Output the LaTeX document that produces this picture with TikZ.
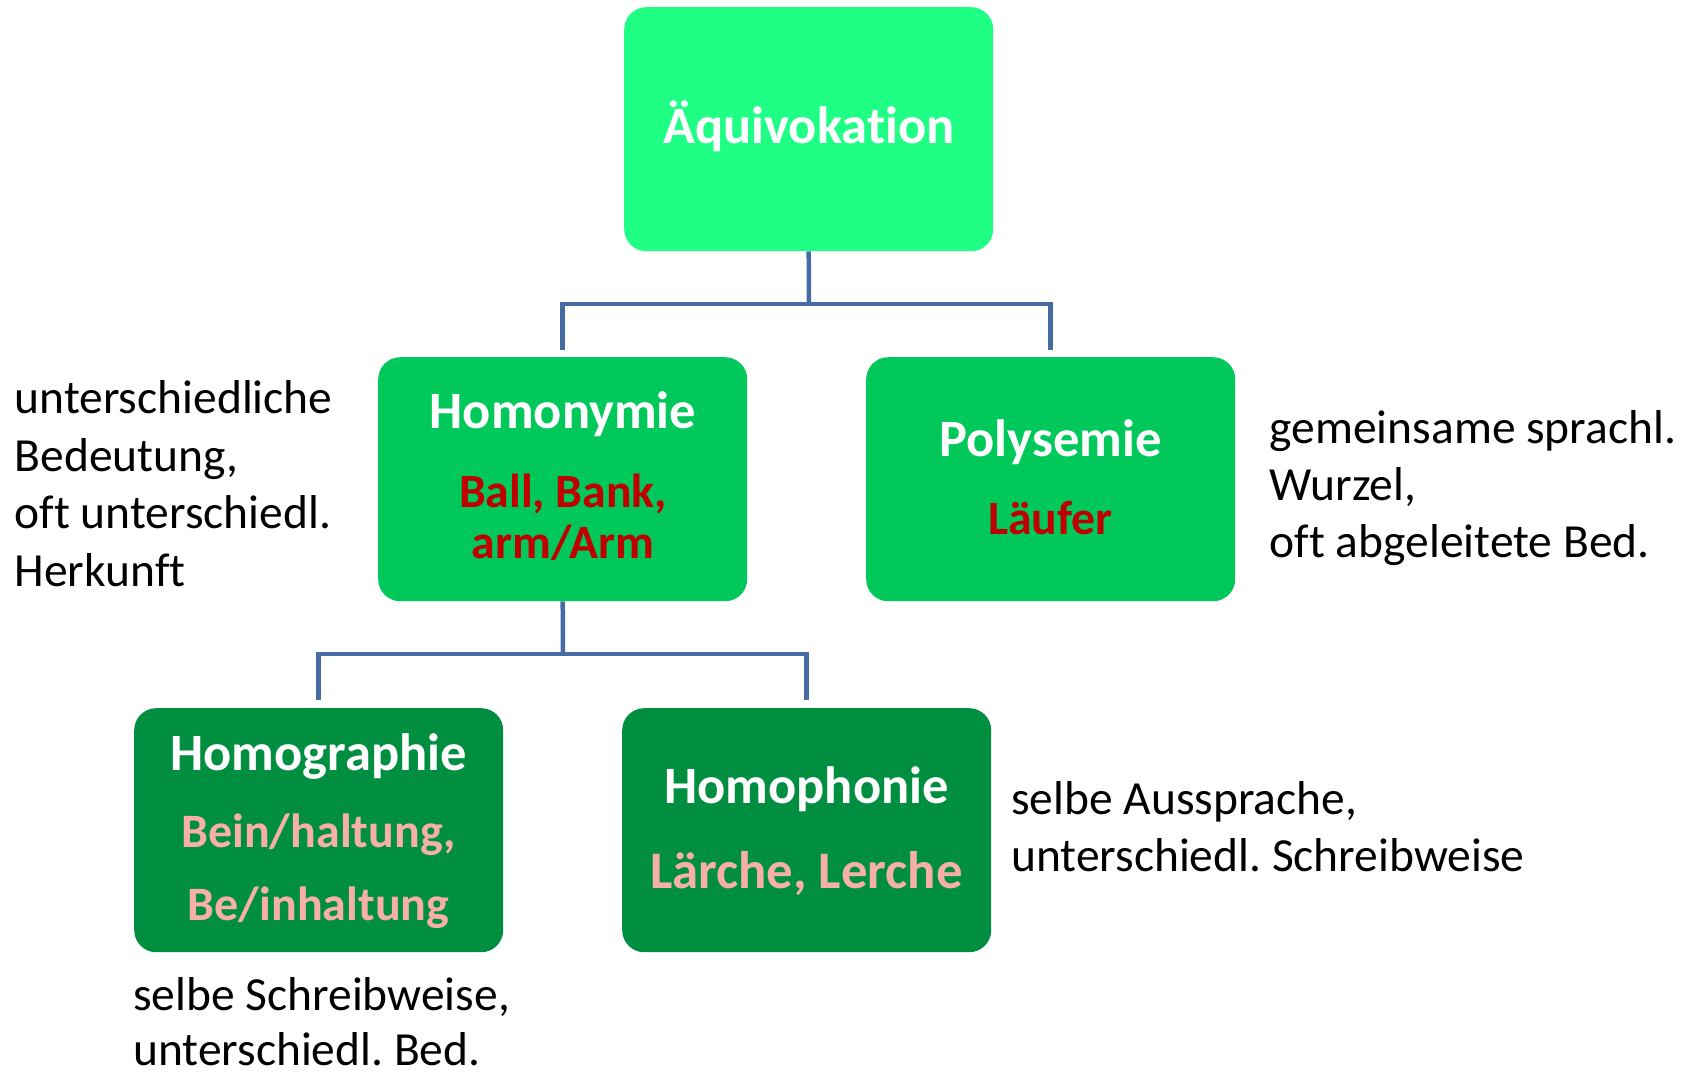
\documentclass[tikz,border=0pt]{standalone}
\usepackage{fontspec}
\setmainfont[Ligatures=NoCommon,RawFeature={-liga;-clig;-dlig}]{Carlito}
\definecolor{topfill}{HTML}{1FFF85}
\definecolor{midfill}{HTML}{00C85A}
\definecolor{lowfill}{HTML}{008E40}
\definecolor{linec}{HTML}{456CA3}
\definecolor{redtxt}{HTML}{C00000}
\definecolor{pinktxt}{HTML}{F6B0A8}
\frenchspacing
\newcommand{\nl}{\kern0pt}
\begin{document}
\begin{tikzpicture}[x=1pt,y=-1pt,
  box/.style={draw=none, rounded corners=22pt, minimum width=369pt, minimum height=244pt, inner sep=0pt, anchor=north west},
  ttl/.style={text=white, font=\fontsize{52.5}{63}\selectfont\bfseries, inner sep=0pt, anchor=base},
  exr/.style={text=redtxt, font=\fontsize{47.7}{57}\selectfont\bfseries, inner sep=0pt, anchor=base},
  exp/.style={text=pinktxt, font=\fontsize{48}{58}\selectfont\bfseries, inner sep=0pt, anchor=base},
  expl/.style={text=pinktxt, font=\fontsize{52.8}{63}\selectfont\bfseries, inner sep=0pt, anchor=base},
  note/.style={text=black, font=\fontsize{47.5}{58}\selectfont, inner sep=0pt, anchor=base west},
  conn/.style={draw=linec, line width=4.5pt, line join=miter}]
\useasboundingbox (0,0) rectangle (1697,1071);
% boxes
\node[box, fill=topfill] (top) at (624,7) {};
\node[box, fill=midfill] (hom) at (378,357) {};
\node[box, fill=midfill] (pol) at (866,357) {};
\node[box, fill=lowfill] (hgr) at (134,708) {};
\node[box, fill=lowfill] (hph) at (622,708) {};
% connectors
\coordinate (j1) at (809,304);
\draw[conn] (top.south) -- (j1);
\draw[conn, shorten >=7pt] (j1) -| (hom.north);
\draw[conn, shorten >=7pt] (j1) -| (pol.north);
\coordinate (j2) at (563,654);
\draw[conn] (hom.south) -- (j2);
\draw[conn, shorten >=8pt] (j2) -| (hgr.north);
\draw[conn, shorten >=8pt] (j2) -| (hph.north);
% box texts
\node[ttl] (t0) at (809,143) {Äquivokat\nl ion};
\node[ttl] (t1) at (563,428) {Homonymie};
\node[exr] (t1a) at (563,507) {Ball, Bank,};
\node[exr] (t1b) at (563,558) {arm/Arm};
\node[ttl] (t2) at (1050.5,456) {Polysemie};
\node[exr] (t2a) at (1050.5,534) {Läufer};
\node[ttl] (t3) at (318.5,770) {Homographie};
\node[exp] (t3a) at (318.5,847) {Bein/haltung,};
\node[exp] (t3b) at (318.5,920) {Be/inhaltung};
\node[ttl] (t4) at (806.5,803) {Homophonie};
\node[expl] (t4a) at (806.5,888) {Lärche, Lerche};
% notes
\node[note] (l1) at (14.5,413) {unterschiedliche};
\node[note] (l2) at (14.5,471) {Bedeutung,};
\node[note] (l3) at (14.5,528) {of\nl t unterschiedl.};
\node[note] (l4) at (14.5,586) {Herkunf\nl t};
\node[note] (r1) at (1269.5,443) {gemeinsame sprachl.};
\node[note] (r2) at (1269.5,500) {Wurzel,};
\node[note] (r3) at (1269.5,557) {of\nl t abgeleitete Bed.};
\node[note] (p1) at (1011,814) {selbe Aussprache,};
\node[note] (p2) at (1011,871) {unterschiedl. Schreibweise};
\node[note] (b1) at (133,1010) {selbe Schreibweise,};
\node[note] (b2) at (133,1065) {unterschiedl. Bed.};
\end{tikzpicture}
\end{document}
